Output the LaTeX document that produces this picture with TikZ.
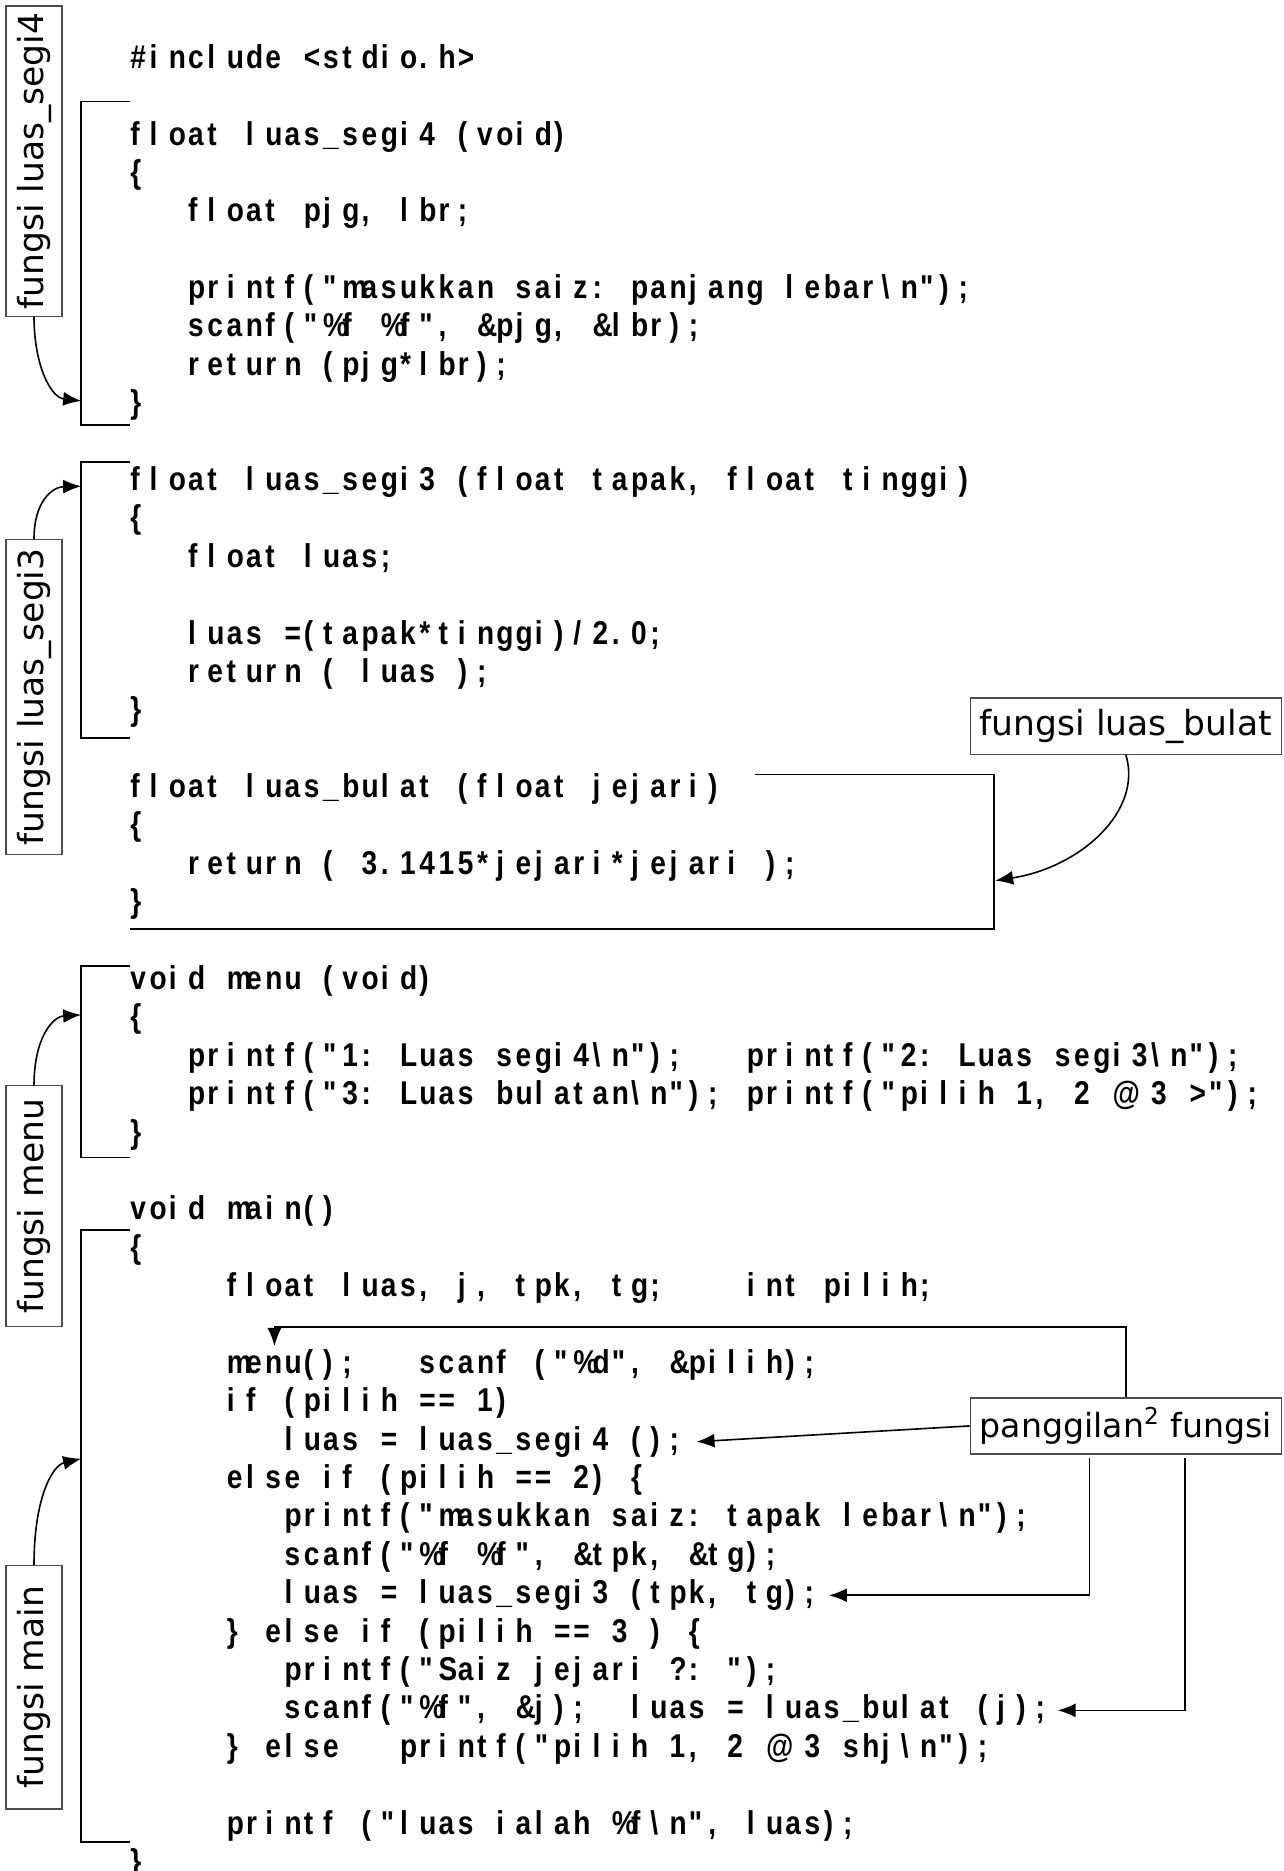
\documentclass[tikz,border=0pt]{standalone}
\usepackage{fontspec}
\usetikzlibrary{arrows.meta,calc}
\newfontfamily\codefont{Liberation Sans}[FakeStretch=0.85]
\newfontfamily\lblfont{DejaVu Sans}
\ExplSyntaxOn
\dim_new:N \l_cellw_dim
\dim_set:Nn \l_cellw_dim {9.63pt}
\tl_new:N \l_codeln_tl
\cs_new:Npn \codespace {}
\NewDocumentCommand \codetext { m }
  {
    \tl_set:Nn \l_codeln_tl {#1}
    \tl_replace_all:Nnn \l_codeln_tl {~} {\codespace}
    \tl_map_inline:Nn \l_codeln_tl { \hbox_to_wd:nn \l_cellw_dim { ##1 \hfil } }
  }
\ExplSyntaxOff
\newcommand\cl[3]{\node[code] (l#2) at ({109+#1*16.14},{57.2+#2*32.17}) {\codetext{#3}};}
\tikzset{
  code/.style={anchor=base west, inner sep=0pt, font=\codefont\bfseries\fontsize{16.5}{18}\selectfont},
  lbl/.style={draw=black!70, line width=0.6pt, inner sep=0pt, font=\lblfont\fontsize{17.25}{20}\selectfont},
  brk/.style={line width=0.9pt},
  arr/.style={line width=0.8pt, -{Latex[length=9pt,width=7pt]}},
}
\begin{document}
\begin{tikzpicture}[x=0.59665pt,y=-0.59665pt]
\useasboundingbox (0,0) rectangle (1076,1568);
% code lines
\cl{0}{0}{\#include <stdio.h>}
\cl{0}{2}{float luas\_segi4 (void)}
\cl{0}{3}{\{}
\cl{3}{4}{float pjg, lbr;}
\cl{3}{6}{printf("masukkan saiz: panjang lebar\textbackslash n");}
\cl{3}{7}{scanf("\%f \%f", \&pjg, \&lbr);}
\cl{3}{8}{return (pjg*lbr);}
\cl{0}{9}{\}}
\cl{0}{11}{float luas\_segi3 (float tapak, float tinggi)}
\cl{0}{12}{\{}
\cl{3}{13}{float luas;}
\cl{3}{15}{luas =(tapak*tinggi)/2.0;}
\cl{3}{16}{return ( luas );}
\cl{0}{17}{\}}
\cl{0}{19}{float luas\_bulat (float jejari)}
\cl{0}{20}{\{}
\cl{3}{21}{return ( 3.1415*jejari*jejari );}
\cl{0}{22}{\}}
\cl{0}{24}{void menu (void)}
\cl{0}{25}{\{}
\cl{3}{26}{printf("1: Luas segi4\textbackslash n");~~~printf("2: Luas segi3\textbackslash n");}
\cl{3}{27}{printf("3: Luas bulatan\textbackslash n"); printf("pilih 1, 2 @ 3 >");}
\cl{0}{28}{\}}
\cl{0}{30}{void main()}
\cl{0}{31}{\{}
\cl{5}{32}{float luas, j, tpk, tg;~~~~int pilih;}
\cl{5}{34}{menu();~~~scanf ("\%d", \&pilih);}
\cl{5}{35}{if (pilih == 1)}
\cl{8}{36}{luas = luas\_segi4 ();}
\cl{5}{37}{else if (pilih == 2) \{}
\cl{8}{38}{printf("masukkan saiz: tapak lebar\textbackslash n");}
\cl{8}{39}{scanf("\%f \%f", \&tpk, \&tg);}
\cl{8}{40}{luas = luas\_segi3 (tpk, tg);}
\cl{5}{41}{\} else if (pilih == 3 ) \{}
\cl{8}{42}{printf("Saiz jejari ?: ");}
\cl{8}{43}{scanf("\%f", \&j);~~luas = luas\_bulat (j);}
\cl{5}{44}{\} else~~~printf("pilih 1, 2 @ 3 shj\textbackslash n");}
\cl{5}{46}{printf ("luas ialah \%f\textbackslash n", luas);}
\cl{0}{47}{\}}
% labels
\node[lbl, rotate=90, minimum width=155.1pt, minimum height=28.04pt] (fA) at (28.5,135) {fungsi luas\_segi4};
\node[lbl, rotate=90, minimum width=157.5pt, minimum height=28.04pt] (fB) at (28.5,584) {fungsi luas\_segi3};
\node[lbl, rotate=90, minimum width=120.5pt, minimum height=28.04pt] (fC) at (28.5,1011) {fungsi menu};
\node[lbl, rotate=90, minimum width=121.7pt, minimum height=28.04pt] (fD) at (28.5,1414) {fungsi main};
\node[lbl, minimum width=155.7pt, minimum height=28.04pt] (fE) at (943.5,608.5) {fungsi luas\_bulat};
\node[lbl, minimum width=155.7pt, minimum height=28.04pt, font=\lblfont\fontsize{16.6}{20}\selectfont] (pg) at (943.5,1195) {panggilan\textsuperscript{2} fungsi};
% brackets
\draw[brk] (109,85) -- (68,85) -- (68,356.5) -- (109,356.5);
\draw[brk] (109,387) -- (68,387) -- (68,618.5) -- (109,618.5);
\draw[brk] (633,649) -- (833,649) -- (833,778.5) -- (109,778.5);
\draw[brk] (109,809.5) -- (68,809.5) -- (68,970) -- (109,970);
\draw[brk] (109,1031) -- (68,1031) -- (68,1544) -- (109,1544);
% arrow tips on brackets
\coordinate (tA) at (68,336);
\coordinate (tB) at (68,407.5);
\coordinate (tC) at (68,850.5);
\coordinate (tD) at (68,1222.5);
\coordinate (tE) at (834,738);
\coordinate (mcorner) at (230,1112);
\coordinate (mtip) at (230,1128);
\draw[arr] (fA.west) .. controls (28.5,305) and (42,333) .. (tA);
\draw[arr] (fB.east) .. controls (28.5,420) and (44,408) .. (tB);
\draw[arr] (fC.east) .. controls (28.5,870) and (44,852) .. (tC);
\draw[arr] (fD.east) .. controls (28.5,1255) and (44,1228) .. (tD);
\draw[arr] (fE.south) .. controls (958,680) and (905,727) .. (tE);
% calls
\draw[arr] (pg.north) |- (mcorner) -- (mtip);
\draw[arr] (pg.west) -- ($(l36.east)+(6,0)$);
\draw[arr] ($(pg.south)+(-30.5,3)$) |- ($(l40.east)+(4,0)$);
\draw[arr] ($(pg.south)+(49.5,3)$) |- ($(l43.east)+(2,0)$);
\end{tikzpicture}
\end{document}
